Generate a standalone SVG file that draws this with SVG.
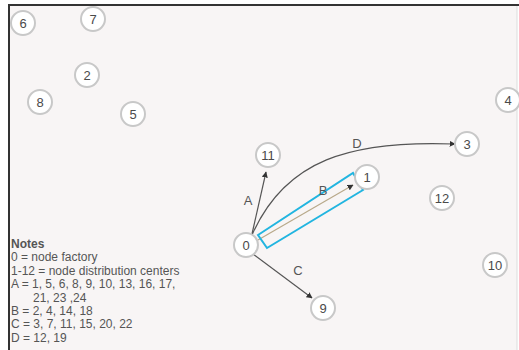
<svg xmlns="http://www.w3.org/2000/svg" width="519" height="350" viewBox="0 0 519 350">
<style>
.n circle{fill:#fff;stroke:#c8c8c8;stroke-width:2}
.n text{font-family:"Liberation Sans",Arial,sans-serif;font-size:13px;fill:#4a4a4a;text-anchor:middle}
.e{fill:none;stroke:#555;stroke-width:1.2}
.lbl{font-family:"Liberation Sans",Arial,sans-serif;font-size:13px;fill:#555;text-anchor:middle}
.notes{font-family:"Liberation Sans",Arial,sans-serif;font-size:12px;fill:#555}
</style>
<defs>
<marker id="arr" viewBox="0 0 10 10" refX="9" refY="5" markerWidth="6" markerHeight="6" orient="auto" markerUnits="userSpaceOnUse">
<path d="M0,0 L10,5 L0,10 z" fill="#333"/>
</marker>
</defs>
<rect x="0" y="0" width="519" height="350" fill="#fff"/>
<rect x="9" y="5" width="508" height="345" fill="#f8f5f5"/>
<line x1="8" y1="5" x2="519" y2="5" stroke="#333" stroke-width="2"/>
<line x1="9" y1="4" x2="9" y2="350" stroke="#333" stroke-width="2"/>
<line x1="517" y1="6" x2="517" y2="350" stroke="#ddd" stroke-width="1"/>
<g id="connectors">
<path id="edge-A" class="e" d="M252,234 L266,172" marker-end="url(#arr)"/>
<path id="edge-B" class="e" style="stroke:#b8a98a" d="M258,240 L353,185" marker-end="url(#arr)"/>
<path id="edge-C" class="e" d="M253,254 L312,298" marker-end="url(#arr)"/>
<path id="edge-D" class="e" d="M252,235 C285,160 350,140 455,144" marker-end="url(#arr)"/>
<polygon id="highlight" points="258,235 353,173 363,190 267,248" fill="none" stroke="#22b5e0" stroke-width="2"/>
<text class="lbl" x="248" y="205">A</text>
<text class="lbl" x="323" y="195">B</text>
<text class="lbl" x="298" y="275">C</text>
<text class="lbl" x="357" y="148">D</text>
</g>
<g id="node-6" class="n"><circle cx="23" cy="23" r="12"/><text x="23" y="27.5">6</text></g>
<g id="node-7" class="n"><circle cx="93" cy="19" r="12"/><text x="93" y="23.5">7</text></g>
<g id="node-2" class="n"><circle cx="87" cy="75" r="12"/><text x="87" y="79.5">2</text></g>
<g id="node-8" class="n"><circle cx="40" cy="102" r="12"/><text x="40" y="106.5">8</text></g>
<g id="node-5" class="n"><circle cx="133" cy="114" r="12"/><text x="133" y="118.5">5</text></g>
<g id="node-4" class="n"><circle cx="508" cy="100" r="12"/><text x="508" y="104.5">4</text></g>
<g id="node-11" class="n"><circle cx="268" cy="155" r="12"/><text x="268" y="159.5">11</text></g>
<g id="node-3" class="n"><circle cx="467" cy="144" r="12"/><text x="467" y="148.5">3</text></g>
<g id="node-1" class="n"><circle cx="367" cy="177" r="12"/><text x="367" y="181.5">1</text></g>
<g id="node-12" class="n"><circle cx="442" cy="198" r="12"/><text x="442" y="202.5">12</text></g>
<g id="node-0" class="n"><circle cx="246" cy="245" r="12"/><text x="246" y="249.5">0</text></g>
<g id="node-9" class="n"><circle cx="323" cy="308" r="12"/><text x="323" y="312.5">9</text></g>
<g id="node-10" class="n"><circle cx="495" cy="265" r="12"/><text x="495" y="269.5">10</text></g>
<g id="notes" class="notes">
<text x="11" y="248" font-weight="bold">Notes</text>
<text x="11" y="261.4">0 = node factory</text>
<text x="11" y="274.8">1-12 = node distribution centers</text>
<text x="11" y="288.2">A = 1, 5, 6, 8, 9, 10, 13, 16, 17,</text>
<text x="33" y="301.6">21, 23 ,24</text>
<text x="11" y="315">B = 2, 4, 14, 18</text>
<text x="11" y="328.4">C = 3, 7, 11, 15, 20, 22</text>
<text x="11" y="341.8">D = 12, 19</text>
</g>
</svg>
